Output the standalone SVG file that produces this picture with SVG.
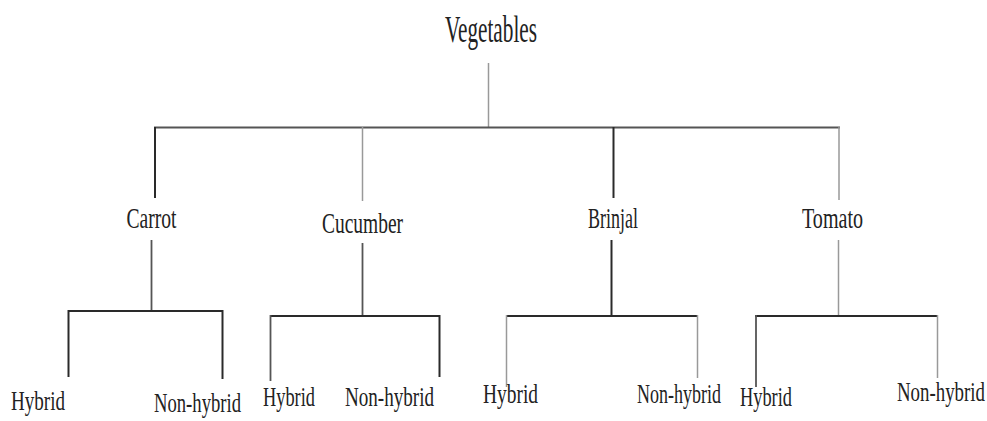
<svg xmlns="http://www.w3.org/2000/svg" width="987" height="421" viewBox="0 0 987 421">
<style>
text{font-family:"Liberation Serif","Times New Roman",serif;fill:#222;}
.t0{font-size:37px;}
.t1{font-size:30px;}
.t2{font-size:28px;}
line{fill:none;}
.k{stroke:#2a2a2a;stroke-width:2;}
.d{stroke:#555;stroke-width:1.8;}
.g{stroke:#999;stroke-width:1.5;}
</style>
<rect width="987" height="421" fill="#fff"/>
<g id="connectors">
  <line class="g" x1="488.5" y1="63" x2="488.5" y2="127"/>
  <line class="d" x1="154" y1="127.5" x2="840" y2="127.5"/>
  <line class="k" x1="155" y1="127" x2="155" y2="198"/>
  <line class="g" x1="362.5" y1="127" x2="362.5" y2="201"/>
  <line class="k" x1="613.5" y1="127" x2="613.5" y2="198"/>
  <line class="g" x1="839" y1="127" x2="839" y2="200"/>

  <line class="d" x1="151.5" y1="240" x2="151.5" y2="311"/>
  <line class="k" x1="68" y1="311" x2="223" y2="311"/>
  <line class="k" x1="68.5" y1="310" x2="68.5" y2="377"/>
  <line class="k" x1="222.5" y1="310" x2="222.5" y2="379"/>

  <line class="d" x1="362.5" y1="243" x2="362.5" y2="316"/>
  <line class="k" x1="270" y1="316" x2="440" y2="316"/>
  <line class="d" x1="270.5" y1="315" x2="270.5" y2="381"/>
  <line class="k" x1="439.5" y1="315" x2="439.5" y2="377"/>

  <line class="k" x1="611.5" y1="240" x2="611.5" y2="316"/>
  <line class="k" x1="506" y1="316" x2="698" y2="316"/>
  <line class="g" x1="506.5" y1="315" x2="506.5" y2="387"/>
  <line class="g" x1="697.5" y1="315" x2="697.5" y2="378"/>

  <line class="g" x1="838.5" y1="240" x2="838.5" y2="316"/>
  <line class="k" x1="755" y1="316" x2="938" y2="316"/>
  <line class="d" x1="756" y1="315" x2="756" y2="387"/>
  <line class="g" x1="937.5" y1="315" x2="937.5" y2="378"/>
</g>
<g id="vegetables"><text class="t0" x="445" y="42" textLength="92" lengthAdjust="spacingAndGlyphs">Vegetables</text></g>
<g id="carrot"><text class="t1" x="126.5" y="228" textLength="50" lengthAdjust="spacingAndGlyphs">Carrot</text></g>
<g id="cucumber"><text class="t1" x="322" y="233" textLength="81" lengthAdjust="spacingAndGlyphs">Cucumber</text></g>
<g id="brinjal"><text class="t1" x="588" y="228" textLength="50" lengthAdjust="spacingAndGlyphs">Brinjal</text></g>
<g id="tomato"><text class="t1" x="802" y="228" textLength="61" lengthAdjust="spacingAndGlyphs">Tomato</text></g>
<g id="carrot-hybrid"><text class="t2" x="11" y="409.5" textLength="54" lengthAdjust="spacingAndGlyphs">Hybrid</text></g>
<g id="carrot-nonhybrid"><text class="t2" x="154" y="412" textLength="87" lengthAdjust="spacingAndGlyphs">Non-hybrid</text></g>
<g id="cucumber-hybrid"><text class="t2" x="263" y="406" textLength="52" lengthAdjust="spacingAndGlyphs">Hybrid</text></g>
<g id="cucumber-nonhybrid"><text class="t2" x="345" y="406" textLength="89" lengthAdjust="spacingAndGlyphs">Non-hybrid</text></g>
<g id="brinjal-hybrid"><text class="t2" x="483" y="403" textLength="55" lengthAdjust="spacingAndGlyphs">Hybrid</text></g>
<g id="brinjal-nonhybrid"><text class="t2" x="637" y="403" textLength="84" lengthAdjust="spacingAndGlyphs">Non-hybrid</text></g>
<g id="tomato-hybrid"><text class="t2" x="740" y="406" textLength="52" lengthAdjust="spacingAndGlyphs">Hybrid</text></g>
<g id="tomato-nonhybrid"><text class="t2" x="897" y="401" textLength="88" lengthAdjust="spacingAndGlyphs">Non-hybrid</text></g>
</svg>
